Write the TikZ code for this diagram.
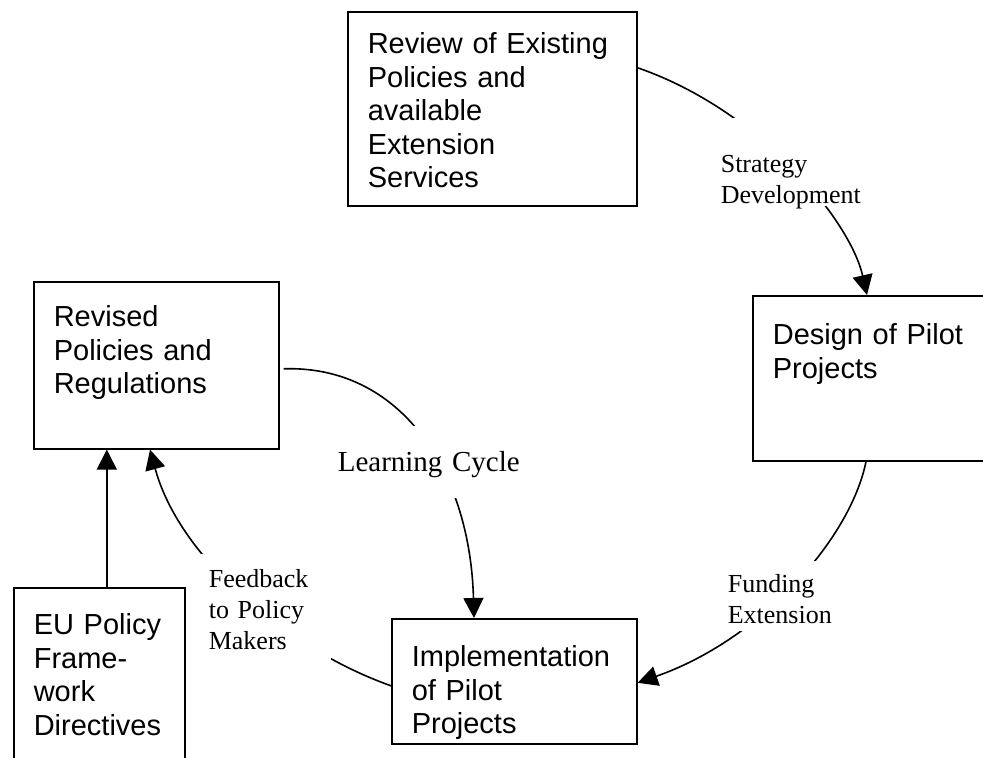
\documentclass[tikz,border=0pt]{standalone}
\usepackage{fontspec}
\setmainfont{Liberation Serif}
\newfontfamily\boxfont{Liberation Sans}
\usetikzlibrary{arrows.meta}

\begin{document}
\begin{tikzpicture}[thick, x=0.5pt, y=-0.5pt,
    stage/.style={draw, anchor=north west, align=left, inner xsep=10pt, inner ysep=0pt,
      font=\boxfont\fontsize{14.5}{16.75}\selectfont},
    lbl/.style={fill=white, anchor=north west, align=left, inner xsep=4pt, inner ysep=0pt,
      font=\fontsize{13}{15.5}\selectfont},
    cyclearrow/.style={-{Triangle[length=10pt,width=10pt]}}]

  \clip (0,0) rectangle (983,758);

  % Stages
  \node[stage, text width=124.5pt, text height=21pt, text depth=76pt] (review) at (347,11)
    {Review of Existing\\Policies and\\available\\Extension\\Services};
  \node[stage, text width=104pt, text height=24.5pt, text depth=58pt] (design) at (752,295)
    {Design of Pilot\\Projects};
  \node[stage, text width=102.5pt, text height=24pt, text depth=38.5pt] (impl) at (391,618)
    {Implementation\\of Pilot\\Projects};
  \node[stage, text width=102.5pt, text height=22.5pt, text depth=61pt] (revised) at (33,281)
    {Revised\\Policies and\\Regulations};
  \node[stage, text width=65.5pt, text height=23.5pt, text depth=73pt] (eu) at (13,587)
    {EU Policy\\Frame-\\work\\Directives};

  % Cycle
  \draw[cyclearrow] ([yshift=20.5pt]review.east) .. controls (760,110) and (850,220) .. ([xshift=57.5pt]design.north west);
  \draw[cyclearrow] ([xshift=57pt]design.south west) .. controls (850,540) and (760,640) .. ([yshift=-0.75pt]impl.east);
  \draw[cyclearrow] ([xshift=2pt,yshift=-1.75pt]revised.east) .. controls (400,365) and (470,470) .. ([xshift=41.5pt]impl.north west);
  \draw[cyclearrow] ([yshift=-2.25pt]impl.west) .. controls (290,650) and (180,560) .. ([xshift=58.5pt]revised.south west);
  \draw[cyclearrow] ([xshift=3.75pt]eu.north) -- ([xshift=3.75pt]eu.north |- revised.south);

  % Labels on the cycle
  \node[lbl, text width=73.5pt, text height=27.5pt, text depth=16.5pt] (strategy) at (712,117)
    {Strategy\\Development};
  \node[lbl, text width=94pt, inner xsep=2pt, font=\fontsize{14.5}{16.75}\selectfont,
    text height=23pt, text depth=13pt] (learning) at (333,425) {Learning Cycle};
  \node[lbl, text width=57pt, text height=17pt, text depth=40.5pt] (feedback) at (200,553)
    {Feedback\\to Policy\\Makers};
  \node[lbl, text width=52.5pt, text height=16pt, text depth=19pt] (funding) at (719,560)
    {Funding\\Extension};

\end{tikzpicture}
\end{document}
